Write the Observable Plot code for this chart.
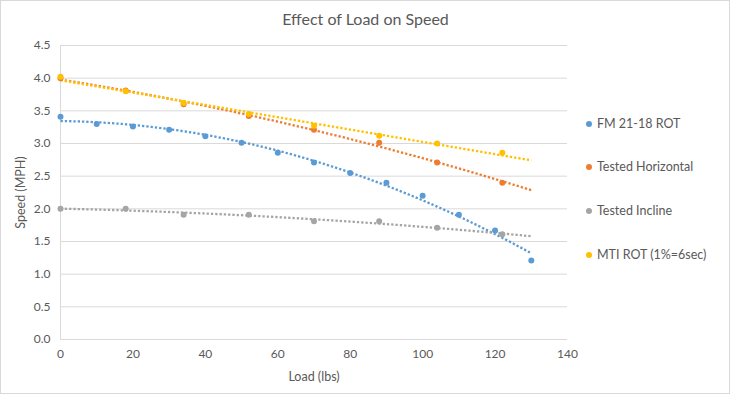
<!DOCTYPE html>
<html><head><meta charset="utf-8">
<script src="https://cdn.jsdelivr.net/npm/d3@7"></script>
<script src="https://cdn.jsdelivr.net/npm/@observablehq/plot@0.6"></script>
<style>
body{margin:0;background:#fff;}
#wrap{position:relative;width:731px;height:398px;font-family:Lato,"Open Sans",sans-serif;color:#595959;}
#frame{position:absolute;left:0;top:0;width:730px;height:394px;border:1px solid #d9d9d9;box-sizing:border-box;pointer-events:none;}
#title{position:absolute;left:0;top:9px;width:731px;text-align:center;font-size:16px;}
#legend{position:absolute;left:586px;top:0;font-size:12.5px;}
.item{position:absolute;white-space:nowrap;display:flex;align-items:center;}
.sw{width:6px;height:6px;border-radius:50%;margin-right:5px;}
#chart{position:absolute;left:0;top:0;}
#chart g[aria-label$="axis label"] text{font-size:12.5px;}
</style></head>
<body>
<div id="wrap"><div id="chart"></div><div id="frame"></div><div id="title">Effect of Load on Speed</div><div id="legend"></div></div>
<script>
// Data
const seriesNames = ["FM 21-18 ROT", "Tested Horizontal", "Tested Incline", "MTI ROT (1%=6sec)"];
const seriesColors = ["#5B9BD5", "#ED7D31", "#A5A5A5", "#FFC000"];
const trendDegree = [2, 2, 2, 1];
const fmLoad = [0,10,20,30,40,50,60,70,80,90,100,110,120,130];
const fmSpeed = [3.41,3.30,3.26,3.21,3.11,3.01,2.86,2.71,2.55,2.40,2.20,1.91,1.67,1.21];
const testLoad = [0,18,34,52,70,88,104,122];
const horizSpeed = [4.00,3.81,3.60,3.42,3.21,3.01,2.71,2.40];
const inclineSpeed = [2.00,2.00,1.91,1.91,1.81,1.81,1.71,1.61];
const mtiSpeed = [4.02,3.80,3.62,3.45,3.27,3.12,3.00,2.86];
const xTicks = [0,20,40,60,80,100,120,140];
const yTicks = [0,0.5,1,1.5,2,2.5,3,3.5,4,4.5];
const trendRange = [0, 130];

const seriesX = [fmLoad, testLoad, testLoad, testLoad];
const seriesY = [fmSpeed, horizSpeed, inclineSpeed, mtiSpeed];

const points = [];
seriesNames.forEach((s, i) => seriesX[i].forEach((x, j) => points.push({series: s, load: x, speed: seriesY[i][j]})));

// least-squares polynomial trendline (like Excel's)
function polyfit(xs, ys, deg) {
  const n = deg + 1;
  const A = Array.from({length: n}, () => new Array(n).fill(0));
  const b = new Array(n).fill(0);
  xs.forEach((x, k) => {
    for (let r = 0; r < n; r++) {
      b[r] += ys[k] * Math.pow(x, r);
      for (let c = 0; c < n; c++) A[r][c] += Math.pow(x, r + c);
    }
  });
  for (let i = 0; i < n; i++) {
    let p = i;
    for (let r = i + 1; r < n; r++) if (Math.abs(A[r][i]) > Math.abs(A[p][i])) p = r;
    [A[i], A[p]] = [A[p], A[i]]; [b[i], b[p]] = [b[p], b[i]];
    for (let r = i + 1; r < n; r++) {
      const f = A[r][i] / A[i][i];
      for (let c = i; c < n; c++) A[r][c] -= f * A[i][c];
      b[r] -= f * b[i];
    }
  }
  const coef = new Array(n).fill(0);
  for (let i = n - 1; i >= 0; i--) {
    let s = b[i];
    for (let c = i + 1; c < n; c++) s -= A[i][c] * coef[c];
    coef[i] = s / A[i][i];
  }
  return x => coef.reduce((acc, c, i) => acc + c * Math.pow(x, i), 0);
}
const trend = [];
seriesNames.forEach((s, i) => {
  const f = polyfit(seriesX[i], seriesY[i], trendDegree[i]);
  for (let x = trendRange[0]; x <= trendRange[1]; x += 1) trend.push({series: s, load: x, speed: f(x)});
});

const plot = Plot.plot({
  width: 731, height: 398,
  marginLeft: 60, marginRight: 164, marginTop: 45, marginBottom: 59,
  style: {fontFamily: "Lato, 'Open Sans', sans-serif", fontSize: "12px", color: "#595959", background: "transparent"},
  x: {domain: [0, 140]},
  y: {domain: [0, 4.5]},
  color: {domain: seriesNames, range: seriesColors},
  marks: [
    Plot.gridY(yTicks, {stroke: "#d9d9d9", strokeOpacity: 1}),
    Plot.ruleX([0], {stroke: "#d9d9d9"}),
    Plot.ruleY([0], {stroke: "#d9d9d9"}),
    Plot.axisX(xTicks, {tickSize: 0, tickPadding: 10, label: "Load (lbs)", labelAnchor: "center", labelOffset: 41, labelArrow: "none", fill: "#595959"}),
    Plot.axisY(yTicks, {tickSize: 0, tickPadding: 10, tickFormat: d3.format(".1f"), label: "Speed (MPH)", labelAnchor: "center", labelOffset: 44, labelArrow: "none", fill: "#595959"}),
    Plot.line(trend, {x: "load", y: "speed", z: "series", stroke: "series", strokeWidth: 2.3, strokeDasharray: "2.3 2", strokeLinecap: "butt"}),
    Plot.dot(points, {x: "load", y: "speed", fill: "series", r: 3})
  ]
});
document.getElementById("chart").appendChild(plot);

const legend = document.getElementById("legend");
const legendTop = [124, 167, 211, 255];
seriesNames.forEach((s, i) => {
  const d = document.createElement("div");
  d.className = "item";
  d.style.top = (legendTop[i] - 8) + "px";
  d.innerHTML = `<span class="sw" style="background:${seriesColors[i]}"></span><span>${s}</span>`;
  legend.appendChild(d);
});
</script>
</body></html>
